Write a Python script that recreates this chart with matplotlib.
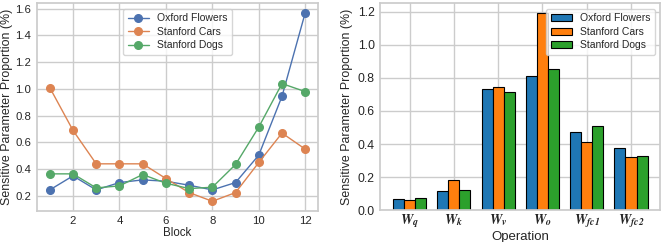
import matplotlib
matplotlib.use("Agg")
import matplotlib.pyplot as plt
import seaborn as sns
import numpy as np

sns.set_theme(style="whitegrid")
plt.rcParams['font.family'] = ['Liberation Sans', 'DejaVu Sans']
plt.rcParams['mathtext.fontset'] = 'stix'

blocks = list(range(1, 13))
oxford_blocks = [0.245, 0.35, 0.245, 0.30, 0.32, 0.31, 0.28, 0.245, 0.30, 0.505, 0.945, 1.57]
cars_blocks = [1.01, 0.69, 0.44, 0.44, 0.44, 0.33, 0.225, 0.16, 0.225, 0.45, 0.67, 0.55]
dogs_blocks = [0.365, 0.365, 0.26, 0.275, 0.36, 0.295, 0.255, 0.265, 0.435, 0.715, 1.04, 0.98]

operations = [r'$\mathbfit{W}_{\mathbfit{q}}$', r'$\mathbfit{W}_{\mathbfit{k}}$', r'$\mathbfit{W}_{\mathbfit{v}}$',
              r'$\mathbfit{W}_{\mathbfit{o}}$', r'$\mathbfit{W}_{\mathbfit{fc1}}$', r'$\mathbfit{W}_{\mathbfit{fc2}}$']
oxford_ops = [0.07, 0.115, 0.735, 0.81, 0.475, 0.375]
cars_ops = [0.065, 0.185, 0.745, 1.19, 0.415, 0.32]
dogs_ops = [0.072, 0.12, 0.715, 0.855, 0.51, 0.33]

series = ['Oxford Flowers', 'Stanford Cars', 'Stanford Dogs']

fig = plt.figure(figsize=(6.64, 2.42), dpi=100)
ax1 = fig.add_axes([37 / 664, 1 - 210.7 / 242, (318 - 37) / 664, (210.7 - 3.3) / 242])
ax2 = fig.add_axes([380.3 / 664, 1 - 210.3 / 242, (660.3 - 380.3) / 664, (210.3 - 3.3) / 242])

deep = sns.color_palette('deep')
for vals, name, c in zip([oxford_blocks, cars_blocks, dogs_blocks], series, deep[:3]):
    ax1.plot(blocks, vals, marker='o', markersize=5.5, linewidth=1, color=c, label=name)
ax1.set_xlabel('Block', fontsize=8.3, labelpad=1)
ax1.set_ylabel('Sensitive Parameter Proportion (%)', fontsize=8.9, labelpad=2)
ax1.set_xticks([2, 4, 6, 8, 10, 12])
ax1.set_yticks([0.2, 0.4, 0.6, 0.8, 1.0, 1.2, 1.4, 1.6])
ax1.tick_params(axis='y', labelsize=8.2, pad=4, length=0)
ax1.tick_params(axis='x', labelsize=8.2, pad=3.5, length=0)
ax1.legend(loc='upper center', fontsize=7.5, borderpad=0.45, labelspacing=0.35, handlelength=2.0)

x = np.arange(len(operations))
w = 0.25
tab = ['tab:blue', 'tab:orange', 'tab:green']
for i, (vals, name, c) in enumerate(zip([oxford_ops, cars_ops, dogs_ops], series, tab)):
    ax2.bar(x + (i - 1) * w, vals, width=w, color=c, edgecolor='black', linewidth=0.8, label=name)
ax2.set_xticks(x)
ax2.set_xticklabels(operations, fontsize=10)
ax2.set_xlabel('Operation', fontsize=9.5, labelpad=1)
ax2.set_ylabel('Sensitive Parameter Proportion (%)', fontsize=8.9, labelpad=3)
ax2.set_yticks([0.0, 0.2, 0.4, 0.6, 0.8, 1.0, 1.2])
ax2.tick_params(axis='y', labelsize=8.8, pad=4, length=0)
ax2.tick_params(axis='x', pad=1.5, length=0)
ax2.legend(loc='upper right', fontsize=7.5, borderpad=0.45, labelspacing=0.35, handlelength=2.0)

fig.savefig('out.png', dpi=100)
